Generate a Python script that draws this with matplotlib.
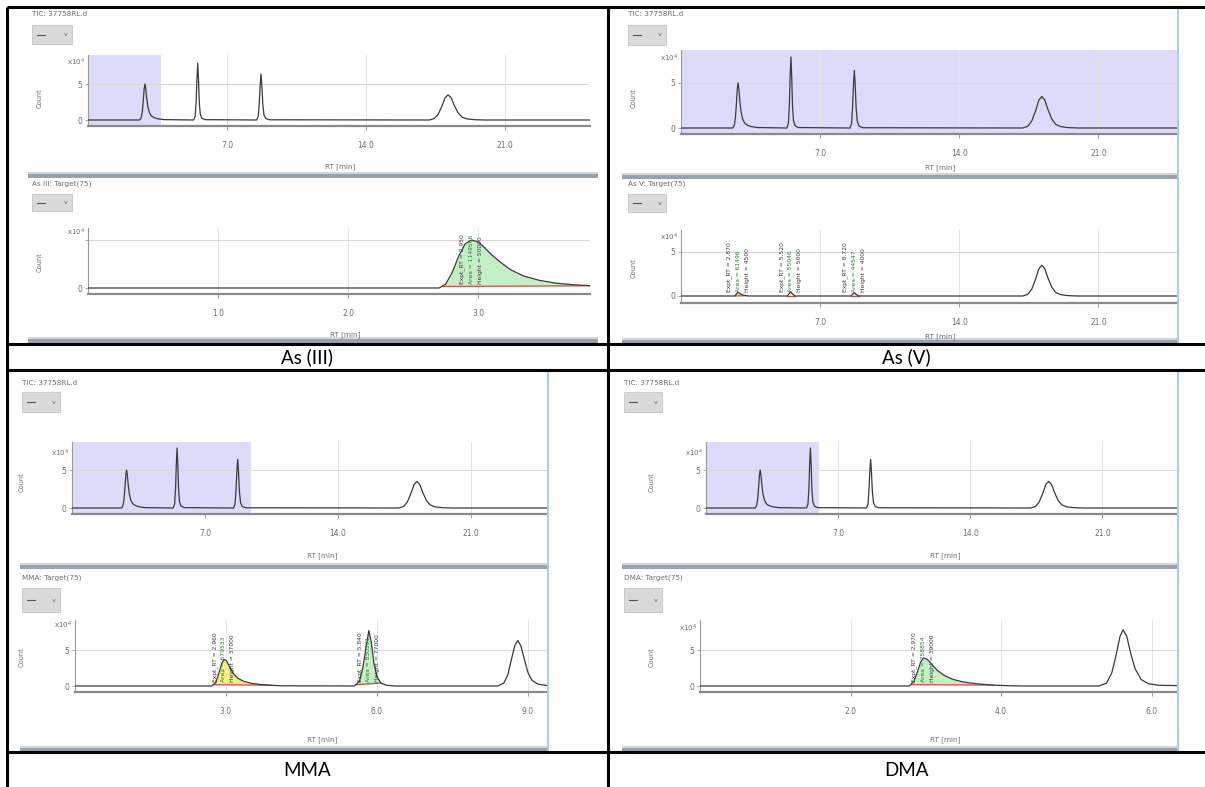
import numpy as np
import matplotlib
matplotlib.use("Agg")
import matplotlib.pyplot as plt
from matplotlib.lines import Line2D
from matplotlib.patches import Rectangle

# ------------------------------------------------------------------ data
captions = ["As (III)", "As (V)", "MMA", "DMA"]
tic_title = "TIC: 37758RL.d"
target_titles = ["As III: Target(75)", "As V: Target(75)",
                 "MMA: Target(75)", "DMA: Target(75)"]

# total ion chromatogram of the standard mix (RT in min, counts in 1e4)
tic_t = [0.0,
         2.60, 2.68, 2.74, 2.79, 2.83, 2.87, 2.91, 2.96, 3.02, 3.10, 3.20, 3.35, 3.55, 3.85,
         5.32, 5.40, 5.45, 5.49, 5.53, 5.57, 5.61, 5.66, 5.74, 5.90,
         8.50, 8.58, 8.63, 8.68, 8.72, 8.76, 8.81, 8.87, 8.96, 9.15,
         17.20, 17.45, 17.65, 17.85, 18.00, 18.15, 18.30, 18.45, 18.65, 18.85, 19.10, 19.50, 20.00,
         25.5]
tic_c = [0.0,
         0.0, 0.3, 1.2, 2.8, 4.3, 5.0, 4.4, 3.0, 1.8, 1.0, 0.55, 0.3, 0.15, 0.05,
         0.0, 0.5, 2.5, 5.8, 7.9, 5.6, 2.4, 0.8, 0.25, 0.05,
         0.0, 0.5, 2.3, 5.0, 6.4, 4.9, 2.2, 0.7, 0.2, 0.03,
         0.0, 0.2, 0.8, 2.0, 3.1, 3.5, 3.1, 2.1, 1.0, 0.4, 0.15, 0.04, 0.0,
         0.0]

# extracted target chromatograms
as3_t = [0.0, 2.70, 2.75, 2.80, 2.85, 2.90, 2.95, 3.00, 3.05, 3.10, 3.17, 3.25, 3.35,
         3.47, 3.60, 3.75, 3.90]
as3_c = [0.0, 0.0, 0.4, 1.6, 3.3, 4.6, 5.0, 4.8, 4.2, 3.5, 2.7, 1.9, 1.25,
         0.8, 0.5, 0.32, 0.22]

as5_t = [0.0, 2.70, 2.80, 2.87, 2.95, 3.10, 3.40,
         5.35, 5.45, 5.52, 5.60, 5.75,
         8.55, 8.65, 8.72, 8.80, 8.95,
         17.20, 17.45, 17.65, 17.85, 18.00, 18.15, 18.30, 18.45, 18.65, 18.85, 19.10, 19.50, 20.00,
         25.5]
as5_c = [0.0, 0.0, 0.25, 0.45, 0.3, 0.12, 0.0,
         0.0, 0.3, 0.5, 0.25, 0.0,
         0.0, 0.25, 0.4, 0.2, 0.0,
         0.0, 0.2, 0.8, 2.0, 3.1, 3.5, 3.1, 2.1, 1.0, 0.4, 0.15, 0.04, 0.0,
         0.0]

mma_t = [0.0, 2.72, 2.80, 2.86, 2.91, 2.96, 3.01, 3.07, 3.14, 3.23, 3.35, 3.50, 3.70, 3.90, 4.10,
         5.55, 5.65, 5.72, 5.78, 5.84, 5.89, 5.94, 6.00, 6.08, 6.20, 6.35,
         8.40, 8.52, 8.60, 8.67, 8.74, 8.80, 8.86, 8.93, 9.00, 9.08, 9.20, 9.40]
mma_c = [0.0, 0.0, 0.5, 1.8, 3.0, 3.7, 3.5, 2.7, 1.8, 1.1, 0.65, 0.38, 0.2, 0.1, 0.03,
         0.0, 0.6, 2.5, 5.2, 7.7, 6.0, 3.2, 1.3, 0.4, 0.1, 0.0,
         0.0, 0.4, 1.5, 3.6, 5.6, 6.3, 5.6, 3.7, 1.9, 0.8, 0.25, 0.05]

dma_t = [0.0, 2.78, 2.84, 2.89, 2.93, 2.97, 3.02, 3.08, 3.15, 3.24, 3.35, 3.50, 3.70, 3.90,
         4.10, 4.30,
         5.30, 5.40, 5.47, 5.53, 5.58, 5.62, 5.67, 5.72, 5.78, 5.86, 5.96, 6.10, 6.35]
dma_c = [0.0, 0.0, 0.6, 2.0, 3.3, 3.9, 3.7, 3.0, 2.2, 1.5, 0.95, 0.55, 0.28, 0.12,
         0.04, 0.0,
         0.0, 0.4, 1.8, 4.4, 6.9, 7.8, 6.9, 4.6, 2.4, 0.9, 0.3, 0.1, 0.05]

tic_ticks = [7.0, 14.0, 21.0]
as3_ticks = [1.0, 2.0, 3.0]
as5_ticks = [7.0, 14.0, 21.0]
mma_ticks = [3.0, 6.0, 9.0]
dma_ticks = [2.0, 4.0, 6.0]

# RT range of the TIC that is opened in the target view (min)
tic_selection = [(0.0, 3.7), (0.0, 25.0), (0.0, 9.4), (0.0, 6.0)]

# integrated peak windows (min) and their fill colours
as3_windows = [(2.72, 3.88)]
as5_windows = [(2.70, 3.30), (5.35, 5.75), (8.55, 8.95)]
mma_windows = [(2.75, 3.90), (5.58, 6.08)]
dma_windows = [(2.80, 3.90)]
as3_fills = ["#c4efc4"]
as5_fills = ["#f5e07a", "#eef08c", "#c4efc4"]
mma_fills = ["#f3f08a", "#c4efc4"]
dma_fills = ["#c4efc4"]

# ------------------------------------------------------------------ figure
W, H = 1205, 787
fig = plt.figure(figsize=(W / 100, H / 100), dpi=100)
fig.patch.set_facecolor("white")

GREY_TXT = "#6e6e6e"


def fx(x):
    return x / W


def fy(y):
    return 1 - y / H


def fbox(x0, y0, x1, y1):
    return [x0 / W, 1 - y1 / H, (x1 - x0) / W, (y1 - y0) / H]


def hline(y, x0, x1, **kw):
    fig.add_artist(Line2D([fx(x0), fx(x1)], [fy(y), fy(y)],
                          transform=fig.transFigure, **kw))


def vline(x, y0, y1, **kw):
    fig.add_artist(Line2D([fx(x), fx(x)], [fy(y0), fy(y1)],
                          transform=fig.transFigure, **kw))


def rect(x0, y0, x1, y1, **kw):
    fig.add_artist(Rectangle((fx(x0), fy(y1)), (x1 - x0) / W, (y1 - y0) / H,
                             transform=fig.transFigure, **kw))


def ftext(x, y, s, **kw):
    fig.text(fx(x), fy(y), s, **kw)


def dropdown(x0, y0, x1, y1):
    rect(x0, y0, x1, y1, facecolor="#dadada", edgecolor="#c4c4c4", lw=0.6)
    ym = (y0 + y1) / 2
    hline(ym, x0 + 5, x0 + 13, color="#555555", lw=0.8)
    ftext(x1 - 6, ym, "v", fontsize=4.5, color="#666666", ha="center", va="center")


def chart(g, t, c, ticks, select=None, windows=(), fills=(), show_five=True):
    upp = 5.0 / (g["y_zero"] - g["y_five"])
    ax = fig.add_axes(fbox(g["x0"], g["y_top"], g["x1"], g["y_axis"]))
    ax.set_xlim(*g["xlim"])
    ax.set_ylim(-(g["y_axis"] - g["y_zero"]) * upp, (g["y_zero"] - g["y_top"]) * upp)
    ax.patch.set_alpha(0)
    for s in ("top", "right"):
        ax.spines[s].set_visible(False)
    ax.spines["left"].set_color("#9a9a9a")
    ax.spines["left"].set_linewidth(0.8)
    ax.spines["bottom"].set_color("#8a8a8a")
    ax.spines["bottom"].set_linewidth(1.6)
    if select is not None:
        ax.axvspan(select[0], select[1], color="#dcdcfa", lw=0, zorder=0)
    for tk in ticks:
        ax.axvline(tk, color="#e4e4e4", lw=0.7, zorder=0.5)
    ax.axhline(5, color="#d8d8d8", lw=0.7, zorder=0.5)
    ax.set_xticks(ticks)
    ax.set_xticklabels([f"{v:.1f}" for v in ticks])
    ax.tick_params(axis="x", length=3, width=0.6, color="#8a8a8a", pad=8,
                   labelsize=5.5, labelcolor=GREY_TXT)
    ax.set_yticks([0, 5])
    ax.set_yticklabels(["0", "5" if show_five else ""])
    ax.tick_params(axis="y", length=2, width=0.6, color="#9a9a9a", pad=2,
                   labelsize=5.5, labelcolor=GREY_TXT)
    ftext(g["x0"] - 3, g["y_exp"], r"x10$^4$", fontsize=5, color=GREY_TXT,
          ha="right", va="center")

    t = np.asarray(t)
    c = np.asarray(c)
    for (w0, w1), col in zip(windows, fills):
        tt = np.linspace(w0, w1, 120)
        cc = np.interp(tt, t, c)
        b0, b1 = np.interp(w0, t, c), np.interp(w1, t, c)
        base = np.interp(tt, [w0, w1], [b0, b1])
        ax.fill_between(tt, base, cc, color=col, lw=0, zorder=1)
        ax.plot([w0, w1], [b0, b1], color="#e04848", lw=0.9, zorder=2)
        inside = (t >= w0) & (t <= w1)
        k = np.argmax(np.where(inside, c, -1))
        apex_t, apex_c = t[k], c[k]
        area = np.trapezoid(cc - base, tt) * 1e4 * 60
        lines = [f"Expt_RT = {apex_t:.3f}", f"Area = {area:.0f}",
                 f"Height = {apex_c * 1e4:.0f}"]
        cols = ["#3a3a3a", "#2f7a34", "#3a3a3a"]
        for dx, s, lc in zip((-6.5, 0, 6.5), lines, cols):
            ax.annotate(s, xy=(apex_t, 0), xytext=(dx, 3), textcoords="offset points",
                        rotation=90, ha="center", va="bottom", fontsize=4.3,
                        color=lc, zorder=4)
    ax.plot(t, c, color="#3a3a3a", lw=0.9, zorder=3)
    return ax


def screenshot(cell, idx, up_t, up_c, lo_t, lo_c, lo_ticks, windows, fills, show_five=True):
    ftext(*cell["title_u"], tic_title, fontsize=5.2, color=GREY_TXT, ha="left", va="center")
    dropdown(*cell["dd_u"])
    chart(cell["up"], up_t, up_c, tic_ticks, select=tic_selection[idx])
    ftext(*cell["count_u"], "Count", fontsize=4.8, color=GREY_TXT, rotation=90,
          ha="center", va="center")
    ftext(*cell["rt_u"], "RT [min]", fontsize=5.2, color=GREY_TXT, ha="center", va="center")
    rect(cell["sx0"], cell["bar_u"] - 2, cell["sx1"], cell["bar_u"] + 2,
         facecolor="#98a2ab", edgecolor="none")
    rect(cell["sx0"], cell["bar_u"] - 4, cell["sx1"], cell["bar_u"] - 2,
         facecolor="#d2d7dc", edgecolor="none")

    ftext(*cell["title_l"], target_titles[idx], fontsize=5.2, color=GREY_TXT,
          ha="left", va="center")
    dropdown(*cell["dd_l"])
    chart(cell["lo"], lo_t, lo_c, lo_ticks, windows=windows, fills=fills,
          show_five=show_five)
    ftext(*cell["count_l"], "Count", fontsize=4.8, color=GREY_TXT, rotation=90,
          ha="center", va="center")
    ftext(*cell["rt_l"], "RT [min]", fontsize=5.2, color=GREY_TXT, ha="center", va="center")
    rect(cell["sx0"], cell["bar_l"] - 2, cell["sx1"], cell["bar_l"] + 2,
         facecolor="#98a2ab", edgecolor="none")
    rect(cell["sx0"], cell["bar_l"] - 4, cell["sx1"], cell["bar_l"] - 2,
         facecolor="#d2d7dc", edgecolor="none")
    if cell["right_border"]:
        vline(cell["sx1"], cell["sy0"], cell["sy1"], color="#a9cfe6", lw=1.4)


cellA = dict(sx0=28, sx1=598, sy0=9, sy1=343, right_border=False,
             title_u=(32, 14), dd_u=(32, 25, 72, 44),
             up=dict(x0=88, x1=590, y_top=55, y_zero=120, y_five=84, y_axis=126,
                     y_exp=62, xlim=(0, 25.3)),
             count_u=(40, 98), rt_u=(340, 167), bar_u=176,
             title_l=(32, 184), dd_l=(32, 194, 72, 211),
             lo=dict(x0=88, x1=590, y_top=228, y_zero=288, y_five=240, y_axis=294,
                     y_exp=232, xlim=(0, 3.86)),
             count_l=(40, 262), rt_l=(345, 335), bar_l=341)

cellB = dict(sx0=622, sx1=1178, sy0=9, sy1=343, right_border=True,
             title_u=(628, 14), dd_u=(628, 25, 666, 45),
             up=dict(x0=681, x1=1178, y_top=50, y_zero=128, y_five=83, y_axis=134,
                     y_exp=58, xlim=(0, 25.0)),
             count_u=(634, 98), rt_u=(940, 168), bar_u=177,
             title_l=(628, 184), dd_l=(628, 194, 666, 212),
             lo=dict(x0=681, x1=1178, y_top=230, y_zero=296, y_five=252, y_axis=303,
                     y_exp=237, xlim=(0, 25.0)),
             count_l=(634, 268), rt_l=(940, 337), bar_l=342)

cellC = dict(sx0=20, sx1=548, sy0=373, sy1=752, right_border=True,
             title_u=(22, 383), dd_u=(22, 392, 60, 412),
             up=dict(x0=72, x1=548, y_top=442, y_zero=508, y_five=470, y_axis=514,
                     y_exp=453, xlim=(0, 25.05)),
             count_u=(22, 482), rt_u=(322, 556), bar_u=567,
             title_l=(22, 578), dd_l=(22, 588, 60, 612),
             lo=dict(x0=75, x1=548, y_top=620, y_zero=686, y_five=650, y_axis=692,
                     y_exp=625, xlim=(0, 9.4)),
             count_l=(22, 657), rt_l=(322, 740), bar_l=750)

cellD = dict(sx0=622, sx1=1178, sy0=373, sy1=752, right_border=True,
             title_u=(624, 383), dd_u=(624, 392, 662, 412),
             up=dict(x0=706, x1=1178, y_top=442, y_zero=508, y_five=470, y_axis=514,
                     y_exp=453, xlim=(0, 25.0)),
             count_u=(652, 482), rt_u=(945, 556), bar_u=567,
             title_l=(624, 578), dd_l=(624, 588, 662, 612),
             lo=dict(x0=700, x1=1178, y_top=620, y_zero=686, y_five=650, y_axis=692,
                     y_exp=628, xlim=(0, 6.35)),
             count_l=(652, 657), rt_l=(945, 740), bar_l=750)

screenshot(cellA, 0, tic_t, tic_c, as3_t, as3_c, as3_ticks, as3_windows, as3_fills,
           show_five=False)
screenshot(cellB, 1, tic_t, tic_c, as5_t, as5_c, as5_ticks, as5_windows, as5_fills)
screenshot(cellC, 2, tic_t, tic_c, mma_t, mma_c, mma_ticks, mma_windows, mma_fills)
screenshot(cellD, 3, tic_t, tic_c, dma_t, dma_c, dma_ticks, dma_windows, dma_fills)

# ------------------------------------------------------------------ table grid
TL = dict(color="black", lw=2.2, solid_capstyle="butt")
hline(7, 7, W, **TL)
hline(344, 7, W, **TL)
hline(370, 7, W, **TL)
hline(752, 7, W, **TL)
vline(7, 7, H, **TL)
vline(608, 7, H, **TL)

cap_kw = dict(fontsize=13.5, family=["Lato", "DejaVu Sans"], color="black",
              ha="center", va="center")
ftext(307, 357, captions[0], **cap_kw)
ftext(906, 357, captions[1], **cap_kw)
ftext(307, 770, captions[2], **cap_kw)
ftext(906, 770, captions[3], **cap_kw)

fig.savefig("out.png", dpi=100, facecolor="white")
